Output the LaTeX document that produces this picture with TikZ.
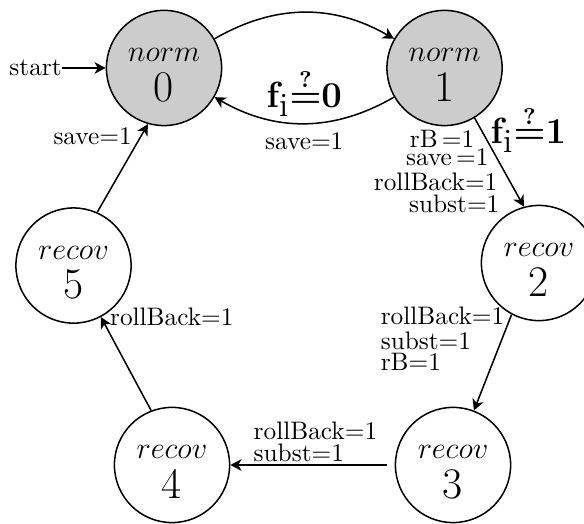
\documentclass[tikz,border=0pt]{standalone}
\usetikzlibrary{positioning, arrows.meta}

\definecolor{normgray}{RGB}{204,204,204}
% two-line state text: mode on top, number below
\newcommand{\sttext}[2]{\rule{0pt}{10.8pt}$#1$\\[1.6pt]{\LARGE #2}}
\newcommand{\fcheck}[1]{{\boldmath$\mathbf{f}_{\textnormal{i}}{\stackrel{?}{=}}\mathbf{#1}$}}

\begin{document}
\begin{tikzpicture}[>={Stealth[length=4.4pt, width=4.6pt, inset=1.3pt]}, semithick,
    st/.style={circle, draw, minimum size=1.6cm, inner sep=0pt, align=center, font=\large},
    normst/.style={st, fill=normgray},
    lbl/.style={inner sep=1pt},
    flbl/.style={font=\fontsize{13.4}{16}\selectfont}]
  \useasboundingbox (0,0) rectangle (8.111,-7.264);

  % states
  \node[normst] (n0) at (2.278,-0.944) {\sttext{norm}{0}};
  \node[normst] (n1) at (6.174,-0.944) {\sttext{norm}{1}};
  \node[st] (n2) at (7.486,-3.653) {\sttext{recov}{2}};
  \node[st] (n3) at (6.292,-6.458) {\sttext{recov}{3}};
  \node[st] (n4) at (2.389,-6.458) {\sttext{recov}{4}};
  \node[st] (n5) at (1.021,-3.688) {\sttext{recov}{5}};

  % start
  \node[left=0.6cm of n0, inner sep=0pt] (start) {start};
  \draw[->] (start) -- (n0);

  % norm 0 <-> norm 1
  \draw[->] (n0) to[bend left=30] (n1);
  \draw[->] (n1) to[bend left=30]
    node[above, flbl, inner sep=2.5pt] {\fcheck{0}}
    node[below] {save=1} (n0);

  % fault: norm 1 -> recov 2
  \draw[->] (n1.-59) --
    node[lbl, pos=.6, anchor=east, xshift=-0.6pt, align=right]
      {rB\,=1\rule{9.9pt}{0pt}\\[-4.9pt]save\,=1\rule{4.3pt}{0pt}\\[-2.1pt]rollBack=1\rule{0.8pt}{0pt}\\[-3.3pt]subst=1}
    node[pos=.13, right, flbl, inner sep=3.5pt] {\fcheck{1}} (n2.105);

  % recovery chain
  \draw[->] (n2.-118) --
    node[lbl, pos=0, anchor=north east, xshift=-1.6pt, yshift=4.3pt, align=left]
      {rollBack=1\\[-2.1pt]subst=1\\[-3.7pt]rB=1} (n3.69);
  \draw[->, shorten <=3pt] (n3) --
    node[lbl, pos=.878, anchor=south west, align=left]
      {rollBack=1\\[-3.3pt]subst=1} (n4);
  \draw[->] (n4.111) -- node[pos=1, right] {rollBack=1} (n5.-62);
  \draw[->] (n5.66) -- node[pos=.86, left] {save=1} (n0.-106);
\end{tikzpicture}
\end{document}
